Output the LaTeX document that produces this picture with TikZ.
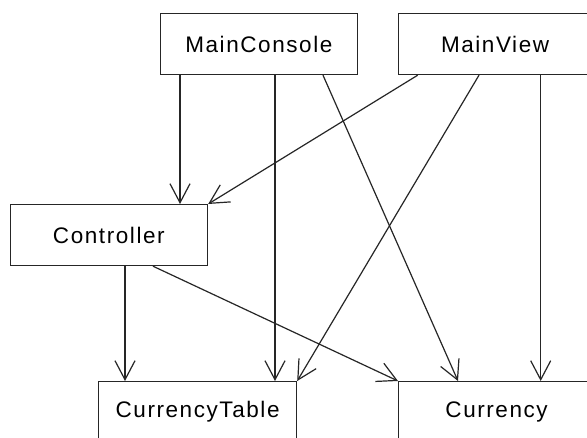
\documentclass[tikz,border=0pt]{standalone}
\usepackage{fontspec}
\setmainfont[LetterSpace=7]{Liberation Sans}
\usetikzlibrary{arrows.meta,calc}
\begin{document}
\begin{tikzpicture}[x=1pt,y=-1pt,
  box/.style={draw=black!85, line width=1.2pt, fill=white, inner sep=0pt,
    minimum height=61pt, anchor=north west, font=\fontsize{22.5}{27}\selectfont},
  arr/.style={draw=black!85, line width=1.2pt,
    -{Straight Barb[length=19pt,width=20pt,line width=1.2pt]}}]
\useasboundingbox[fill=white] (0,0) rectangle (587,438);
\node[box, minimum width=197.5pt] (mc) at (159.5,13) {MainConsole};
\node[box, minimum width=193pt] (mv) at (398,13) {MainView};
\node[box, minimum width=197.5pt] (ctrl) at (9.5,204) {Controller};
\node[box, minimum width=198pt] (ct) at (98,381) {CurrencyTable};
\node[box, minimum width=196pt] (cur) at (398,381) {Currency};
% MainConsole
\draw[arr] ([xshift=20.5pt]mc.south west) -- ([xshift=20.5pt]mc.south west |- ctrl.north);
\draw[arr] ([xshift=115.5pt]mc.south west) -- ([xshift=115.5pt]mc.south west |- ct.north);
\draw[arr] ([xshift=163.5pt]mc.south west) -- ([xshift=60pt]cur.north west);
% MainView
\draw[arr] ([xshift=19.7pt]mv.south west) -- (ctrl.north east);
\draw[arr] ([xshift=81pt]mv.south west) -- (ct.north east);
\draw[arr] ([xshift=142.7pt]mv.south west) -- ([xshift=142.7pt]mv.south west |- cur.north);
% Controller
\draw[arr] ([xshift=115.5pt]ctrl.south west) -- ([xshift=115.5pt]ctrl.south west |- ct.north);
\draw[arr] ([xshift=143.5pt]ctrl.south west) -- (cur.north west);
\end{tikzpicture}
\end{document}
